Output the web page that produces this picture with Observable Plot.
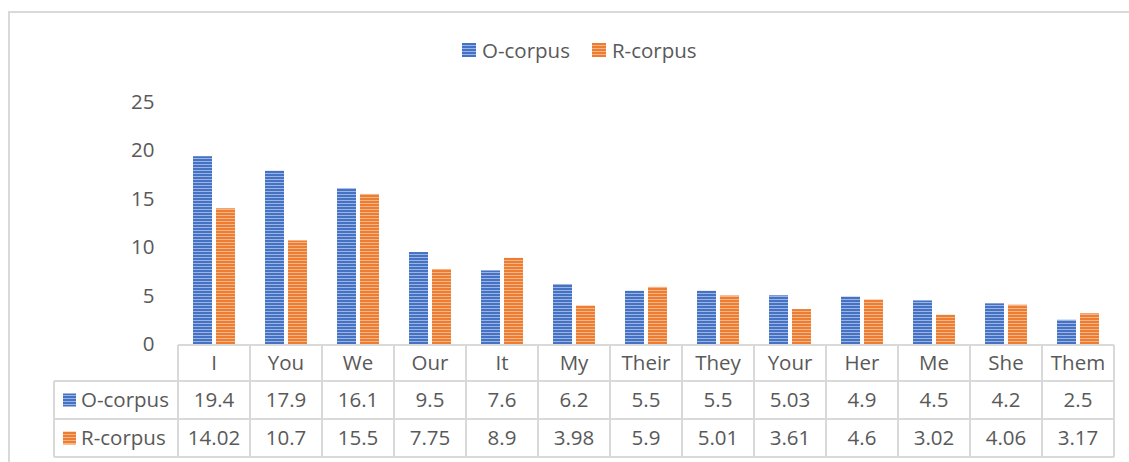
<!DOCTYPE html>
<html><head><meta charset="utf-8">
<script src="https://cdn.jsdelivr.net/npm/d3@7"></script>
<script src="https://cdn.jsdelivr.net/npm/@observablehq/plot@0.6"></script>
<style>
body{margin:0;background:#fff;}
#wrap{position:relative;width:1129px;height:462px;overflow:hidden;font-family:"Open Sans",sans-serif;color:#595959;background:#fff;}
#frame{position:absolute;left:8px;top:11px;width:2000px;height:1000px;border-left:2px solid #d9d9d9;border-top:2px solid #d9d9d9;}
#legend{position:absolute;left:462px;top:36px;display:flex;align-items:center;font-size:20.5px;line-height:28px;z-index:2;}
.sw{width:14px;height:14px;display:inline-block;margin-right:6px;}
.o{background:repeating-linear-gradient(to bottom,#4472c4 0 2px,#9db4e0 2px 3px);}
.r{background:repeating-linear-gradient(to bottom,#ed7d31 0 2px,#f5b58b 2px 3px);}
#chart{position:absolute;left:0;top:0;z-index:1;}
</style></head>
<body>
<div id="wrap">
  <div id="frame"></div>
  <div id="legend"><span class="sw o"></span><span>O-corpus</span><span style="width:22px"></span><span class="sw r"></span><span>R-corpus</span></div>
  <div id="chart"></div>
</div>
<script>
const categories = ["I","You","We","Our","It","My","Their","They","Your","Her","Me","She","Them"];
const oCorpus = [19.4,17.9,16.1,9.5,7.6,6.2,5.5,5.5,5.03,4.9,4.5,4.2,2.5];
const rCorpus = [14.02,10.7,15.5,7.75,8.9,3.98,5.9,5.01,3.61,4.6,3.02,4.06,3.17];
const oLabels = ["19.4","17.9","16.1","9.5","7.6","6.2","5.5","5.5","5.03","4.9","4.5","4.2","2.5"];
const rLabels = ["14.02","10.7","15.5","7.75","8.9","3.98","5.9","5.01","3.61","4.6","3.02","4.06","3.17"];
const seriesNames = ["O-corpus","R-corpus"];

const oData = categories.map((c,i)=>({cat:c, series:seriesNames[0], value:oCorpus[i]}));
const rData = categories.map((c,i)=>({cat:c, series:seriesNames[1], value:rCorpus[i]}));

const grid = "#d9d9d9", textColor = "#595959";

function tableMark(index, scales, values, dims) {
  const x = scales.x;
  const bw = x.bandwidth ? x.bandwidth() : (x(categories[1]) - x(categories[0]));
  const top = dims.height - dims.marginBottom;
  const rows = [top + 1, top + 37, top + 75, top + 113];
  const left = x(categories[0]);
  const right = x(categories[categories.length-1]) + bw;
  const legLeft = left - 124;
  const g = d3.create("svg:g");
  const line = (x1,y1,x2,y2,w) => g.append("line").attr("x1",x1).attr("y1",y1).attr("x2",x2).attr("y2",y2)
      .attr("stroke",grid).attr("stroke-width",w);
  line(left, rows[0], right, rows[0], 2);
  rows.slice(1).forEach(r => line(legLeft, r, right, r, 2));
  for (let i = 0; i <= categories.length; i++) line(left + i*bw, rows[0], left + i*bw, rows[3], 2);
  line(legLeft, rows[1], legLeft, rows[3], 2);
  const txt = (tx, ty, s, anchor="middle") => g.append("text").attr("x",tx).attr("y",ty).attr("dy","0.36em")
      .attr("text-anchor",anchor).attr("fill",textColor).text(s);
  categories.forEach((c,i) => {
    const cx = x(c) + bw/2;
    txt(cx, (rows[0]+rows[1])/2, c);
    txt(cx, (rows[1]+rows[2])/2, oLabels[i]);
    txt(cx, (rows[2]+rows[3])/2, rLabels[i]);
  });
  [["O-corpus","url(#patO)"],["R-corpus","url(#patR)"]].forEach(([name, fill], k) => {
    const cy = (rows[1+k]+rows[2+k])/2;
    g.append("rect").attr("x", legLeft + 9).attr("y", cy - 6.5).attr("width", 13).attr("height", 13).attr("fill", fill);
    txt(legLeft + 27, cy, name, "start");
  });
  return g.node();
}

const svg = Plot.plot({
  width: 1129, height: 462,
  marginLeft: 178, marginRight: 15, marginTop: 102, marginBottom: 118,
  style: {fontFamily: "'Open Sans', sans-serif", fontSize: "20.5px", color: textColor, background: "transparent", overflow: "visible"},
  x: {domain: categories, padding: 0, axis: null},
  y: {domain: [0, 25], ticks: 5, tickSize: 0, tickPadding: 24, label: null},
  marks: [
    Plot.barY(oData, {x: "cat", y: "value", fill: "url(#patO)", insetLeft: 15, insetRight: 38}),
    Plot.barY(rData, {x: "cat", y: "value", fill: "url(#patR)", insetLeft: 38, insetRight: 15}),
    tableMark
  ]
});

const defs = d3.create("svg:defs");
[["patO","#4472c4","#9db4e0"],["patR","#ed7d31","#f5b58b"]].forEach(([id, base, light]) => {
  const p = defs.append("pattern").attr("id", id).attr("patternUnits","userSpaceOnUse").attr("width", 4).attr("height", 3);
  p.append("rect").attr("width", 4).attr("height", 3).attr("fill", base);
  p.append("rect").attr("y", 2).attr("width", 4).attr("height", 1).attr("fill", light);
});
svg.insertBefore(defs.node(), svg.firstChild);
document.getElementById("chart").appendChild(svg);
</script>
</body></html>
